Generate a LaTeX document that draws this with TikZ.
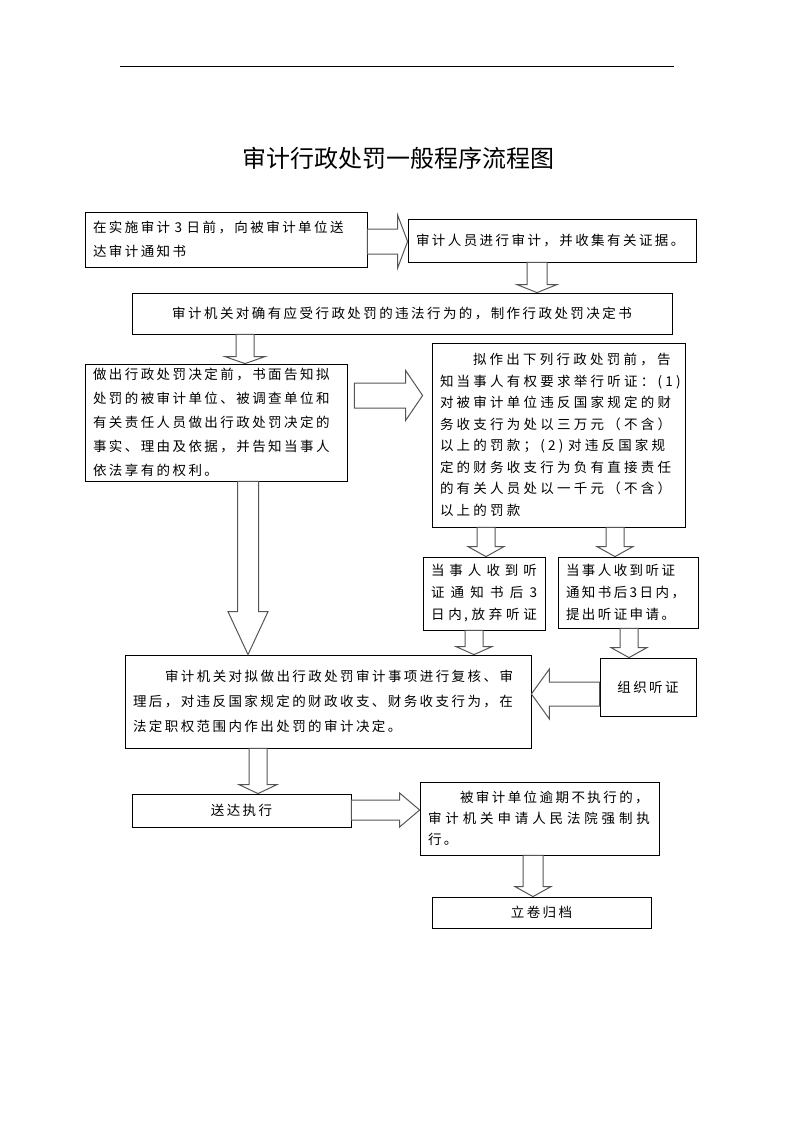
\documentclass[tikz,border=0pt]{standalone}
\usepackage{fontspec}
\newfontfamily\cjk{Noto Sans CJK SC}[LetterSpace=18]
\newfontfamily\cjkw{Noto Sans CJK SC}[LetterSpace=24]
\newfontfamily\cjkt{Noto Sans CJK SC}
\usetikzlibrary{calc}
\definecolor{arrowgray}{RGB}{85,85,85}
% block arrows: #1 start, #2 end, #3 body half width, #4 head half width, #5 head length
\newcommand\blockR[5]{\draw[barrow] let \p1=#1, \p2=#2 in
  (\x1,\y1+#3pt) -- (\x2-#5pt,\y1+#3pt) -- (\x2-#5pt,\y1+#4pt) -- (\x2,\y1)
  -- (\x2-#5pt,\y1-#4pt) -- (\x2-#5pt,\y1-#3pt) -- (\x1,\y1-#3pt) -- cycle;}
\newcommand\blockL[5]{\draw[barrow] let \p1=#1, \p2=#2 in
  (\x1,\y1+#3pt) -- (\x2+#5pt,\y1+#3pt) -- (\x2+#5pt,\y1+#4pt) -- (\x2,\y1)
  -- (\x2+#5pt,\y1-#4pt) -- (\x2+#5pt,\y1-#3pt) -- (\x1,\y1-#3pt) -- cycle;}
\newcommand\blockD[5]{\draw[barrow] let \p1=#1, \p2=#2 in
  (\x1-#3pt,\y1) -- (\x1-#3pt,\y2+#5pt) -- (\x1-#4pt,\y2+#5pt) -- (\x1,\y2)
  -- (\x1+#4pt,\y2+#5pt) -- (\x1+#3pt,\y2+#5pt) -- (\x1+#3pt,\y1) -- cycle;}
\begin{document}
\begin{tikzpicture}[x=1pt,y=-1pt,
  box/.style={draw, line width=0.8pt, inner xsep=8pt, inner ysep=0pt,
    font=\cjk\fontsize{13.5}{24}\selectfont},
  barrow/.style={draw=arrowgray, line width=1pt, fill=white, line join=miter}]
\useasboundingbox (0,0) rectangle (793,1122);
\fill[white] (0,0) rectangle (793,1122);
\coordinate (hl) at (120,66);
\coordinate (hr) at (674,66);
\draw[line width=0.8pt] (hl) -- (hr);
\node[font=\cjkt\fontsize{24}{28}\selectfont] (title) at (398,158) {审计行政处罚一般程序流程图};

\node[box, minimum width=282, minimum height=55, text width=266pt, align=left] (A) at (226,239.5)
  {在实施审计~3~日前，向被审计单位送\\达审计通知书};
\node[box, minimum width=288, minimum height=43, text width=272pt, align=left] (B) at (552,240.5)
  {审计人员进行审计，并收集有关证据。};
\node[box, minimum width=540, minimum height=41, align=center] (C) at (402,313.5)
  {审计机关对确有应受行政处罚的违法行为的，制作行政处罚决定书};
\node[box, minimum width=262, minimum height=117, text width=246pt, align=left] (D) at (216,422.5)
  {做出行政处罚决定前，书面告知拟\\处罚的被审计单位、被调查单位和\\有关责任人员做出行政处罚决定的\\事实、理由及依据，并告知当事人\\依法享有的权利。};
\node[box, minimum width=253, minimum height=184, text width=237pt, align=left,
  font=\cjkw\fontsize{13.5}{21.5}\selectfont] (E) at (558.5,435)
  {\hspace*{33pt}拟作出下列行政处罚前，告\\知当事人有权要求举行听证：(1)\\对被审计单位违反国家规定的财\\务收支行为处以三万元（不含）\\以上的罚款；(2) 对违反国家规\\定的财务收支行为负有直接责任\\的有关人员处以一千元（不含）\\以上的罚款};
\node[box, minimum width=122, minimum height=73, text width=106pt, align=left,
  font=\cjk\fontsize{13.5}{22}\selectfont] (F1) at (484,593.5)
  {\makebox[106pt][s]{当\hfill 事\hfill 人\hfill 收\hfill 到\hfill 听}\\
   \makebox[106pt][s]{证\hfill 通\hfill 知\hfill 书\hfill 后\hfill 3}\\
   \makebox[106pt][s]{日\hfill 内,\hfill 放\hfill 弃\hfill 听\hfill 证}};
\node[box, minimum width=140, minimum height=71, text width=124pt, align=left,
  font=\cjk\fontsize{13.5}{22}\selectfont] (F2) at (628,592.5)
  {当事人收到听证\\通知书后3日内，\\提出听证申请。};
\node[box, minimum width=406, minimum height=93, text width=390pt, align=left,
  font=\cjk\fontsize{13.5}{25}\selectfont] (G) at (328,701.5)
  {\hspace*{32pt}审计机关对拟做出行政处罚审计事项进行复核、审\\理后，对违反国家规定的财政收支、财务收支行为，在\\法定职权范围内作出处罚的审计决定。};
\node[box, minimum width=96, minimum height=58, align=center] (H) at (648,687) {组织听证};
\node[box, minimum width=219, minimum height=33, align=center] (I) at (241.5,810.5) {送达执行};
\node[box, minimum width=239, minimum height=73, text width=223pt, align=left,
  font=\cjk\fontsize{13.5}{21}\selectfont] (J) at (539.5,818.5)
  {\hspace*{32pt}被审计单位逾期不执行的，\\
   \makebox[222pt][s]{审\hfill 计\hfill 机\hfill 关\hfill 申\hfill 请\hfill 人\hfill 民\hfill 法\hfill 院\hfill 强\hfill 制\hfill 执}\\行。};
\node[box, minimum width=219, minimum height=31, align=center] (K) at (541.5,912.5) {立卷归档};

% arrows
\blockR{(A.east |- 0,241.5)}{(B.west |- 0,241.5)}{12.5}{26.5}{10}
\blockD{(537,0 |- B.south)}{(537,0 |- C.north)}{10}{20}{8}
\blockD{(245,0 |- C.south)}{(245,0 |- D.north)}{9}{20}{7}
\blockR{($(D.east |- 0,395.5)+(7,0)$)}{($(E.west |- 0,395.5)+(-9,0)$)}{12.5}{25}{17}
\blockD{(248,0 |- D.south)}{(248,0 |- G.north)}{10.5}{20}{43}
\blockD{(486,0 |- E.south)}{(486,0 |- F1.north)}{9}{18}{10}
\blockD{(615,0 |- E.south)}{(615,0 |- F2.north)}{9}{18}{10}
\blockD{(474,0 |- F1.south)}{(474,0 |- G.north)}{9}{18}{8}
\blockD{(629,0 |- F2.south)}{(629,0 |- H.north)}{9}{18}{10}
\blockL{(H.west |- 0,694)}{(G.east |- 0,694)}{12}{25}{18}
\blockD{(258,0 |- G.south)}{(258,0 |- I.north)}{9}{19}{9}
\blockR{(I.east |- 0,810)}{(J.west |- 0,810)}{10}{17}{20}
\blockD{(533,0 |- J.south)}{(533,0 |- K.north)}{10}{18}{10}
\end{tikzpicture}
\end{document}
